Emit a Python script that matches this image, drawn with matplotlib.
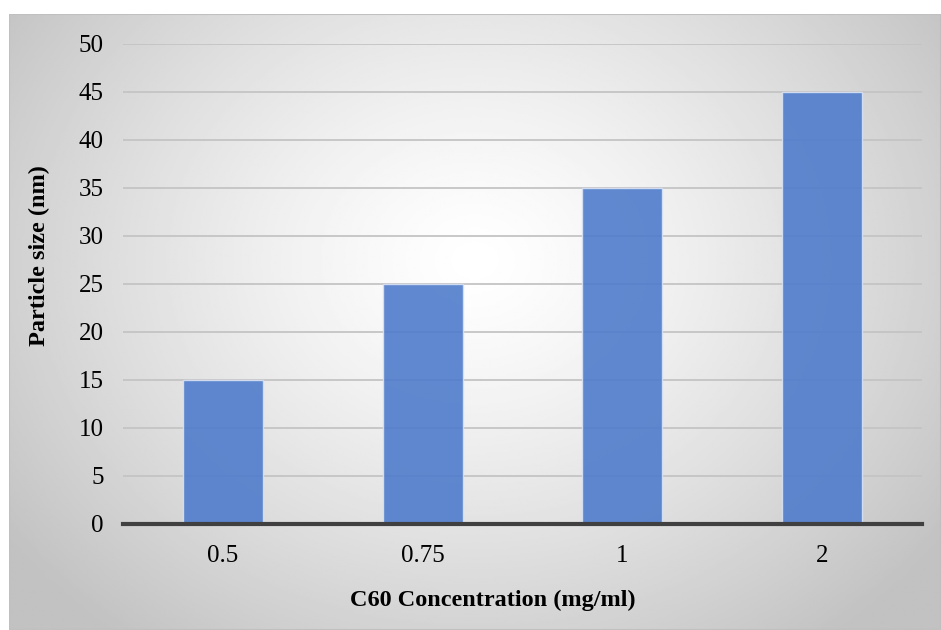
import numpy as np
import matplotlib.pyplot as plt

# Данные
categories = ["0.5", "0.75", "1", "2"]
particle_size = [15, 25, 35, 45]
y_ticks = [0, 5, 10, 15, 20, 25, 30, 35, 40, 45, 50]

plt.rcParams['font.family'] = ['Liberation Serif', 'DejaVu Serif']

W, H = 941, 630
fig = plt.figure(figsize=(W / 100, H / 100), dpi=100)
fig.patch.set_facecolor('white')

# Фон с радиальным градиентом
bg = fig.add_axes([9 / W, 0, (W - 9) / W, (H - 14) / H])
bg.set_axis_off()
yy, xx = np.mgrid[0:1:300j, 0:1:450j]
r = np.sqrt(((xx - 0.5) / 0.62) ** 2 + ((yy - 0.40) / 0.78) ** 2)
shade = 1.0 - 0.24 * np.clip(r, 0, 1.0) ** 1.3
bg.imshow(shade, cmap='gray', vmin=0, vmax=1, aspect='auto',
          extent=[0, 1, 1, 0], interpolation='bilinear')
bg.add_patch(plt.Rectangle((0, 0), 1, 1, transform=bg.transAxes, fill=False,
                           edgecolor='#c0c0c0', linewidth=1.5))

# Основной график
left, right = 123, 922
top, bottom = 44, 524
ax = fig.add_axes([left / W, 1 - bottom / H, (right - left) / W, (bottom - top) / H])
ax.set_facecolor('none')

x = np.arange(len(categories))
ax.bar(x, particle_size, width=0.4, color='#4f7ccc', alpha=0.9,
       edgecolor='#d8e2f4', linewidth=1.0, zorder=3)

ax.set_xlim(-0.5, len(categories) - 0.5)
ax.set_ylim(0, 50)
ax.set_yticks(y_ticks)
ax.set_xticks(x)
ax.set_xticklabels(categories)
ax.grid(True, axis='y', color='#c4c4c4', linewidth=1.3, zorder=0)
ax.set_axisbelow(True)

for name in ['top', 'right', 'left']:
    ax.spines[name].set_visible(False)
ax.spines['bottom'].set_color('#404040')
ax.spines['bottom'].set_linewidth(3)
ax.spines['bottom'].set_zorder(4)

ax.tick_params(axis='both', length=0, labelsize=18, colors='black')
ax.tick_params(axis='y', pad=14)
ax.tick_params(axis='x', pad=15)

# Подписи осей
fig.text(493 / W, 1 - 600 / H, "C60 Concentration (mg/ml)", fontsize=17.5,
         fontweight='bold', ha='center', va='center')
fig.text(39 / W, 1 - 256 / H, "Particle size (nm)", fontsize=17.5,
         fontweight='bold', ha='center', va='center', rotation=90)

plt.savefig("out.png", dpi=100)
plt.close()
